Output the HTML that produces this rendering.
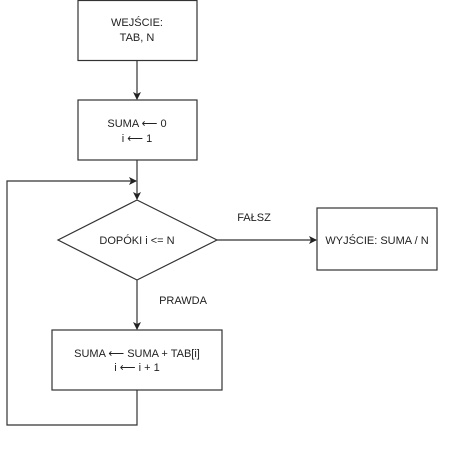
<!DOCTYPE html>
<html><head><style>
body{margin:0;background:#fff;}
svg text{font-family:"Liberation Sans",sans-serif;font-size:11px;fill:#222;}
</style></head><body>
<svg width="449" height="445" xmlns="http://www.w3.org/2000/svg">
<defs><marker id="a" markerWidth="8" markerHeight="8" refX="7" refY="4" orient="auto" markerUnits="userSpaceOnUse"><path d="M0,0 L8,4 L0,8 L2,4 Z" fill="#222"/></marker></defs>
<g stroke="#333" stroke-width="1.2" fill="#fff">
<rect x="78" y="0.5" width="119" height="60"/>
<rect x="78" y="100" width="119" height="60"/>
<polygon points="137,200 217,240 137,280 58,240"/>
<rect x="317" y="208" width="120" height="62"/>
<rect x="52" y="330" width="170" height="60"/>
</g>
<g stroke="#333" stroke-width="1.2" fill="none">
<line x1="137" y1="60" x2="137" y2="99" marker-end="url(#a)"/>
<line x1="137" y1="160" x2="137" y2="199" marker-end="url(#a)"/>
<polyline points="137,390 137,425 7,425 7,181 136,181" marker-end="url(#a)"/>
<line x1="217" y1="240" x2="316" y2="240" marker-end="url(#a)"/>
<line x1="137" y1="280" x2="137" y2="329" marker-end="url(#a)"/>
</g>
<text x="137" y="26" text-anchor="middle">WEJŚCIE:</text>
<text x="137" y="41" text-anchor="middle">TAB, N</text>
<text x="137" y="127" text-anchor="middle">SUMA ⟵ 0</text>
<text x="137" y="142" text-anchor="middle">i ⟵ 1</text>
<text x="137" y="244" text-anchor="middle">DOPÓKI i &lt;= N</text>
<text x="377" y="244" text-anchor="middle">WYJŚCIE: SUMA / N</text>
<text x="137" y="357" text-anchor="middle">SUMA ⟵ SUMA + TAB[i]</text>
<text x="137" y="371" text-anchor="middle">i ⟵ i + 1</text>
<text x="254" y="221" text-anchor="middle">FAŁSZ</text>
<text x="183" y="304" text-anchor="middle">PRAWDA</text>
</svg>
</body></html>
